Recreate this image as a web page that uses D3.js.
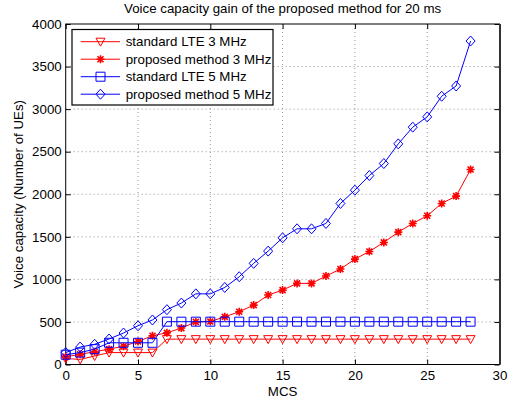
<!DOCTYPE html>
<html>
<head>
<meta charset="utf-8">
<script src="https://cdn.jsdelivr.net/npm/d3@7"></script>
<style>
  body { margin: 0; background: #fff; }
  svg { font-family: "Liberation Sans", Arial, Helvetica, sans-serif; }
</style>
</head>
<body>
<div id="chart"></div>
<script>
// MCS index 0..28
const mcs = d3.range(0, 29);

const lte3 = [70, 60, 100, 140, 140, 140, 140, 298, 298, 298, 298, 298, 298, 298, 298,
              298, 298, 298, 298, 298, 298, 298, 298, 298, 298, 298, 298, 298, 298];
const prop3 = [90, 120, 150, 180, 215, 270, 338, 372, 428, 500, 505, 560, 620, 698, 816,
               874, 953, 953, 1039, 1121, 1238, 1328, 1434, 1555, 1657, 1747, 1892, 1978, 2291];
const lte5 = [115, 140, 180, 255, 255, 255, 255, 503, 503, 503, 503, 503, 503, 503, 503,
              503, 503, 503, 503, 503, 503, 503, 503, 503, 503, 503, 503, 503, 503];
const prop5 = [140, 205, 237, 300, 370, 455, 523, 644, 722, 830, 830, 905, 1031, 1188, 1332,
               1488, 1594, 1594, 1657, 1892, 2048, 2220, 2361, 2592, 2788, 2909, 3151, 3272, 3800];

const xTicks = [0, 5, 10, 15, 20, 25, 30];
const yTicks = [0, 500, 1000, 1500, 2000, 2500, 3000, 3500, 4000];

const seriesNames = ["standard LTE 3 MHz", "proposed method 3 MHz", "standard LTE 5 MHz", "proposed method 5 MHz"];
const seriesColors = ["#ff0000", "#ff0000", "#0000ff", "#0000ff"];
const seriesMarkers = ["triangleDown", "asterisk", "square", "diamond"];
const seriesValues = [lte3, prop3, lte5, prop5];

const width = 514, height = 403;
const margin = {top: 24, right: 14.5, bottom: 38.5, left: 65.7};
const w = width - margin.left - margin.right;
const h = height - margin.top - margin.bottom;
const fs = "13.3px";

const svg = d3.select("#chart").append("svg")
    .attr("width", width)
    .attr("height", height);

const g = svg.append("g")
    .attr("transform", `translate(${margin.left},${margin.top})`);

const x = d3.scaleLinear().domain([0, 30]).range([0, w]);
const y = d3.scaleLinear().domain([0, 4000]).range([h, 0]);

// grid
g.append("g").selectAll("line")
    .data(xTicks.slice(1, -1))
    .join("line")
    .attr("x1", d => x(d)).attr("x2", d => x(d))
    .attr("y1", 0).attr("y2", h)
    .attr("stroke", "#777")
    .attr("stroke-width", 0.8)
    .attr("stroke-dasharray", "1,3");

g.append("g").selectAll("line")
    .data(yTicks.slice(1, -1))
    .join("line")
    .attr("x1", 0).attr("x2", w)
    .attr("y1", d => y(d)).attr("y2", d => y(d))
    .attr("stroke", "#777")
    .attr("stroke-width", 0.8)
    .attr("stroke-dasharray", "1,3");

// axes (inward ticks)
const xAxis = g.append("g")
    .attr("transform", `translate(0,${h})`)
    .call(d3.axisBottom(x).tickValues(xTicks).tickSize(-5).tickPadding(6).tickFormat(d3.format("d")));
const xAxisTop = g.append("g")
    .call(d3.axisTop(x).tickValues(xTicks).tickSize(-5).tickFormat(""));
const yAxis = g.append("g")
    .call(d3.axisLeft(y).tickValues(yTicks).tickSize(-5).tickPadding(4).tickFormat(d3.format("d")));
const yAxisRight = g.append("g")
    .attr("transform", `translate(${w},0)`)
    .call(d3.axisRight(y).tickValues(yTicks).tickSize(-5).tickFormat(""));

[xAxis, xAxisTop, yAxis, yAxisRight].forEach(a => {
    a.select(".domain").remove();
    a.selectAll("line").attr("stroke", "#000");
    a.selectAll("text").attr("fill", "#000").style("font-size", fs);
});

// box
g.append("rect")
    .attr("x", 0).attr("y", 0)
    .attr("width", w).attr("height", h)
    .attr("fill", "none")
    .attr("stroke", "#000")
    .attr("stroke-width", 1);
g.append("line")
    .attr("x1", w + 0.5).attr("x2", w + 0.5)
    .attr("y1", 0).attr("y2", h)
    .attr("stroke", "#333")
    .attr("stroke-width", 2);

// marker shapes
function markerPath(type) {
    if (type === "triangleDown") return "M-4.5,-3.5L4.5,-3.5L0,4.5Z";
    if (type === "square") return "M-4.5,-4.5H4.5V4.5H-4.5Z";
    if (type === "diamond") return "M0,-5L4.5,0L0,5L-4.5,0Z";
    if (type === "asterisk") return "M0,-4V4M-4,0H4M-3,-3L3,3M-3,3L3,-3";
    return "";
}

const line = d3.line()
    .x(d => x(d[0]))
    .y(d => y(d[1]));

seriesValues.forEach((vals, i) => {
    const pts = mcs.map((m, j) => [m, vals[j]]);
    const sg = g.append("g");
    sg.append("path")
        .datum(pts)
        .attr("fill", "none")
        .attr("stroke", seriesColors[i])
        .attr("stroke-width", 1)
        .attr("d", line);
    sg.selectAll("path.mk")
        .data(pts)
        .join("path")
        .attr("class", "mk")
        .attr("transform", d => `translate(${x(d[0])},${y(d[1])})`)
        .attr("d", markerPath(seriesMarkers[i]))
        .attr("fill", "none")
        .attr("stroke", seriesColors[i])
        .attr("stroke-width", seriesMarkers[i] === "asterisk" ? 1.6 : 1);
});

// legend
const legend = svg.append("g").attr("transform", "translate(72,29.5)");
legend.append("rect")
    .attr("width", 201).attr("height", 75.5)
    .attr("fill", "#fff")
    .attr("stroke", "#000")
    .attr("stroke-width", 1.2);

const items = legend.selectAll("g.item")
    .data(seriesNames)
    .join("g")
    .attr("class", "item")
    .attr("transform", (d, i) => `translate(0,${12.2 + i * 17.5})`);

items.append("line")
    .attr("x1", 8.7).attr("x2", 48)
    .attr("stroke", (d, i) => seriesColors[i])
    .attr("stroke-width", 1);
items.append("path")
    .attr("transform", "translate(28.5,0)")
    .attr("d", (d, i) => markerPath(seriesMarkers[i]))
    .attr("fill", "none")
    .attr("stroke", (d, i) => seriesColors[i])
    .attr("stroke-width", (d, i) => seriesMarkers[i] === "asterisk" ? 1.6 : 1);
items.append("text")
    .attr("x", 53.7)
    .attr("dy", "0.35em")
    .style("font-size", fs)
    .attr("fill", "#000")
    .text(d => d);

// title & labels
svg.append("text")
    .attr("x", margin.left + w / 2)
    .attr("y", 13)
    .attr("text-anchor", "middle")
    .style("font-size", fs)
    .text("Voice capacity gain of the proposed method for 20 ms");

svg.append("text")
    .attr("x", margin.left + w / 2)
    .attr("y", 396)
    .attr("text-anchor", "middle")
    .style("font-size", fs)
    .text("MCS");

svg.append("text")
    .attr("transform", `translate(23,${margin.top + h / 2}) rotate(-90)`)
    .attr("text-anchor", "middle")
    .style("font-size", fs)
    .text("Voice capacity (Number of UEs)");
</script>
</body>
</html>
